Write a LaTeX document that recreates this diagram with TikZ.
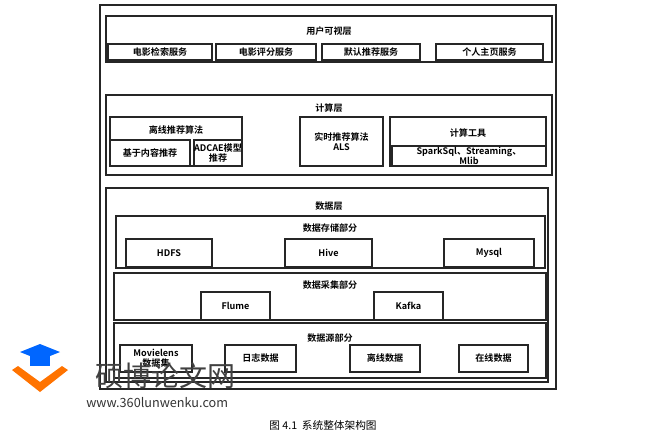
\documentclass[tikz,border=0pt]{standalone}
\usepackage{fontspec}
\setmainfont{Noto Sans CJK SC}
\newfontfamily\cjkb{Noto Sans CJK SC Bold}
\begin{document}
\begin{tikzpicture}[x=0.75pt,y=-0.75pt,
  bx/.style={draw=black!85,line width=0.9pt},
  lb/.style={font=\cjkb\fontsize{6.8pt}{7.5pt}\selectfont,align=center,inner sep=0pt}]
\useasboundingbox (0,0) rectangle (647,439);
\fill[white] (0,0) rectangle (647,439);
\newcommand\bb[6]{\draw[bx] (#2,#3) rectangle (#4,#5); \node[lb] (#1) at ({(#2+#4)/2},{(#3+#5)/2}) {#6};}
\newcommand\bt[6]{\draw[bx] (#2,#3) rectangle (#4,#5); \node[lb] (#1) at ({(#2+#4)/2},#6) {\csname ttl#1\endcsname};}
\draw[bx] (100,5) rectangle (556,389);
% user layer
\draw[bx] (106,16) rectangle (552,62); \node[lb] (u) at (329,31) {用户可视层};
\bb{u1}{108}{44}{212}{60}{电影检索服务}
\bb{u2}{216}{44}{316}{60}{电影评分服务}
\bb{u3}{322}{44}{420}{60}{默认推荐服务}
\bb{u4}{436}{44}{543}{60}{个人主页服务}
% compute
\draw[bx] (106,95) rectangle (552,175); \node[lb] (c) at (329,108) {计算层};
\draw[bx] (110,117) rectangle (242,166); \node[lb] (off) at (176,130) {离线推荐算法};
\bb{c1}{110}{140}{190}{166}{基于内容推荐}
\bb{c2}{194}{140}{242}{166}{ADCAE模型\\推荐}
\bb{c3}{300}{117}{383}{166}{实时推荐算法\\ALS}
\draw[bx] (390,117) rectangle (546,166); \node[lb] (tool) at (468,133) {计算工具};
\bb{c4}{392}{146}{546}{166}{SparkSql、Streaming、\\Mlib}
% data
\draw[bx] (106,188) rectangle (548,382); \node[lb] (d) at (329,206) {数据层};
\draw[bx] (116,216) rectangle (545,268); \node[lb] (st) at (330,228) {数据存储部分};
\bb{d1}{126}{239}{212}{267}{HDFS}
\bb{d2}{285}{239}{372}{267}{Hive}
\bb{d3}{444}{239}{534}{267}{Mysql}
\draw[bx] (114,273) rectangle (546,320); \node[lb] (co) at (330,285) {数据采集部分};
\bb{d4}{201}{292}{270}{320}{Flume}
\bb{d5}{374}{292}{443}{320}{Kafka}
\draw[bx] (114,323) rectangle (546,378); \node[lb] (so) at (330,338) {数据源部分};
\bb{d6}{120}{345}{192}{372}{Movielens\\数据集}
\bb{d7}{225}{345}{296}{372}{日志数据}
\bb{d8}{350}{345}{420}{372}{离线数据}
\bb{d9}{459}{345}{528}{372}{在线数据}
% watermark
\node[font=\fontsize{21pt}{22pt}\selectfont,text=black!75,anchor=west,inner sep=0pt] (wm) at (95,376) {硕博论文网};
\node[font=\fontsize{9.5pt}{10pt}\selectfont,text=black!80,anchor=west,inner sep=0pt] (url) at (86,403) {www.360lunwenku.com};
\fill[orange!90!red] (12,370) -- (40,392) -- (68,370) -- (62,366) -- (40,382) -- (18,366) -- cycle;
\fill[blue!60!cyan] (20,352) -- (40,344) -- (60,352) -- (40,360) -- cycle;
\fill[blue!60!cyan] (30,356) rectangle (50,366);
% caption
\node[font=\fontsize{8pt}{9pt}\selectfont,inner sep=0pt] (cap) at (323,425) {图 4.1\ \ 系统整体架构图};
\end{tikzpicture}
\end{document}
